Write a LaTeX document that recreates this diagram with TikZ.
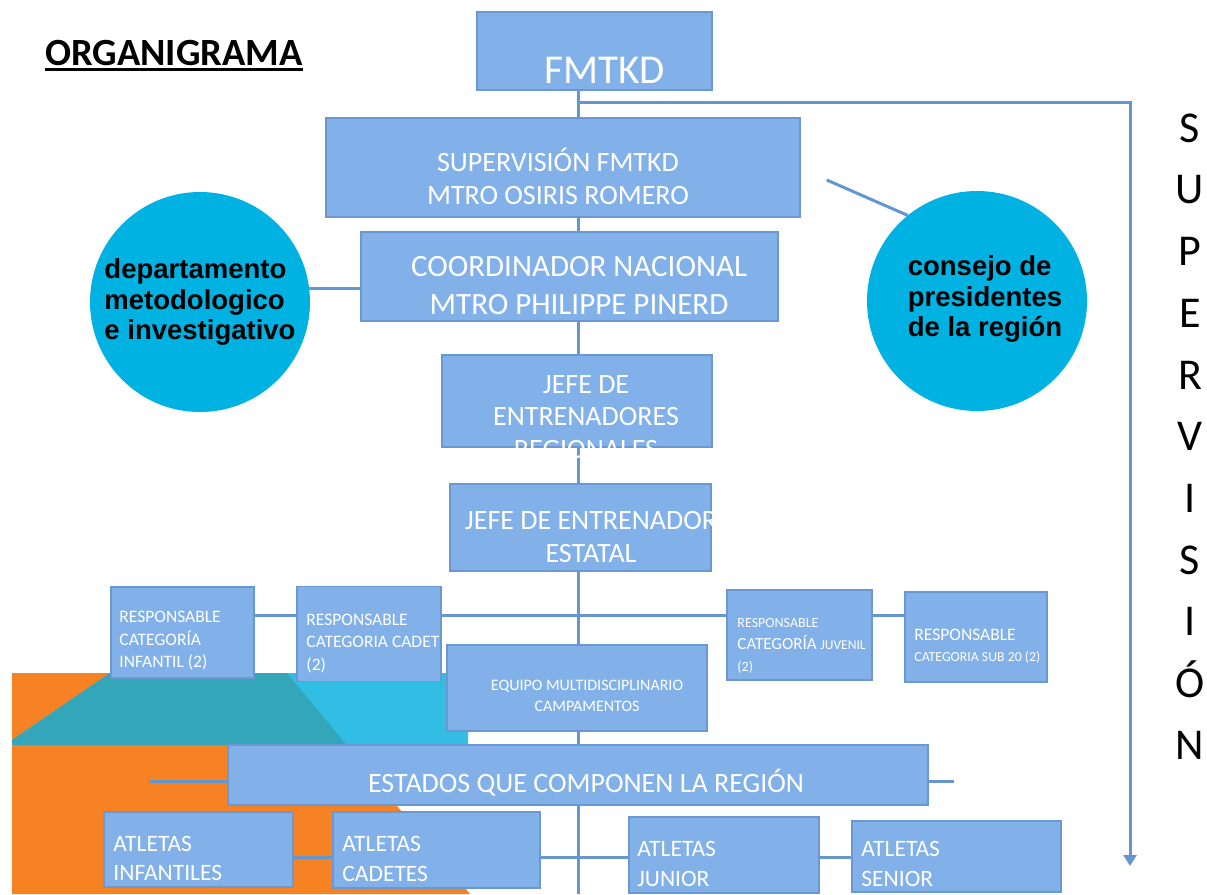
\documentclass[tikz,border=0pt]{standalone}
\usepackage{fontspec}
\setmainfont{Carlito}
\newfontfamily\helv{Liberation Sans}
\usetikzlibrary{arrows.meta,backgrounds}

\definecolor{boxfill}{RGB}{130,177,234}
\definecolor{boxline}{RGB}{108,152,210}
\definecolor{wireblue}{RGB}{102,150,208}
\definecolor{discblue}{RGB}{0,178,226}
\definecolor{orng}{RGB}{247,130,36}
\definecolor{skyb}{RGB}{50,190,228}
\definecolor{tealc}{RGB}{52,166,186}

\begin{document}
\begin{tikzpicture}[x=1pt,y=-1pt,>={Triangle[width=13pt,length=11pt]},
  box/.style={rectangle,draw=boxline,fill=boxfill,line width=1.5pt,inner sep=0pt},
  disc/.style={circle,fill=discblue,minimum size=220pt,inner sep=0pt,align=left,
    font=\helv\bfseries\fontsize{27.5}{30.5}\selectfont},
  wire/.style={draw=wireblue,line width=3pt},
  every label/.style={text=white,inner sep=0pt,align=center},
  lft/.style={anchor=west,align=left},
  bigtxt/.style={font=\fontsize{28}{33}\selectfont},
  smalltxt/.style={font=\fontsize{17.5}{22.5}\selectfont},
  atltxt/.style={font=\fontsize{23.5}{29.5}\selectfont}]
\useasboundingbox (0,0) rectangle (1207,894);
\coordinate (spine) at (578,894);
\coordinate (rowa) at (0,615);
\coordinate (rowb) at (0,857);
\coordinate (turn) at (1130,102);
\coordinate (tip) at (1130,866);

\node[inner sep=0pt,font=\bfseries\fontsize{38.5}{40}\selectfont] (title) at (174,53) {ORGANIGRAMA};
\draw[line width=2.5pt] ([yshift=-4pt]title.base west) -- ([yshift=-4pt]title.base east);

\node[box,minimum width=235pt,minimum height=78pt,
  label={[font=\fontsize{41}{48}\selectfont,xshift=10pt,yshift=-19pt]center:FMTKD}] (fmtkd) at (594.5,51) {};
\node[box,minimum width=474pt,minimum height=99pt,
  label={[bigtxt,xshift=-5pt,yshift=-8.5pt]center:{SUPERVISIÓN FMTKD\\MTRO OSIRIS ROMERO}}] (sup) at (563,167.5) {};
\node[box,minimum width=417pt,minimum height=89pt,
  label={[font=\fontsize{31}{38}\selectfont,xshift=9.5pt,yshift=-9.5pt]center:{COORDINADOR NACIONAL\\MTRO PHILIPPE PINERD}}] (coord) at (569.5,276.5) {};
\node[box,minimum width=270pt,minimum height=92pt,
  label={[font=\fontsize{28}{32.5}\selectfont,xshift=9pt,yshift=-16pt]center:{JEFE DE\\ENTRENADORES\\REGIONALES}}] (regional) at (577,401) {};
\node[box,minimum width=261pt,minimum height=87pt,
  label={[bigtxt,xshift=10.5pt,yshift=-10pt]center:{JEFE DE ENTRENADOR\\ESTATAL}}] (estatal) at (580.5,527.5) {};

\node[disc] (dept) at (200,302) {departamento\\metodologico\\e investigativo};
\node[disc,label={[text=black,align=left,font=\helv\bfseries\fontsize{27.5}{30.5}\selectfont,xshift=8pt,yshift=2pt]center:{consejo de\\presidentes\\de la región}}] (council) at (977,301) {};

\node[box,minimum width=143pt,minimum height=91pt,
  label={[smalltxt,lft,xshift=9pt,yshift=-8.5pt]west:{RESPONSABLE\\CATEGORÍA\\INFANTIL (2)}}] (infantil) at (182.5,632.5) {};
\node[box,minimum width=144pt,minimum height=95pt,
  label={[smalltxt,lft,xshift=10pt,yshift=-9.5pt]west:{RESPONSABLE\\CATEGORIA CADET\\(2)}}] (cadet) at (369,634) {};
\node[box,minimum width=145pt,minimum height=90pt,
  label={[font=\fontsize{17}{22}\selectfont,lft,xshift=11pt,yshift=-10.5pt]west:{{\fontsize{14}{17}\selectfont RESPONSABLE}\\CATEGORÍA {\fontsize{13.5}{17}\selectfont JUVENIL}\\{\fontsize{14}{17}\selectfont (2)}}}] (juvenil) at (799.5,635) {};
\node[box,minimum width=142pt,minimum height=90pt,
  label={[font=\fontsize{17.5}{21}\selectfont,lft,xshift=10pt,yshift=-9.5pt]west:{RESPONSABLE\\{\fontsize{13.8}{17}\selectfont CATEGORIA SUB 20 (2)}}}] (sub) at (976,637) {};
\node[box,minimum width=260pt,minimum height=86pt,
  label={[font=\fontsize{16}{21}\selectfont,xshift=10pt,yshift=-7.5pt]center:{EQUIPO MULTIDISCIPLINARIO\\CAMPAMENTOS}}] (equipo) at (577,688) {};
\node[box,minimum width=700pt,minimum height=60pt,
  label={[bigtxt,xshift=8pt,yshift=-7.5pt]center:ESTADOS QUE COMPONEN LA REGIÓN}] (estados) at (578,775) {};

\node[box,minimum width=189pt,minimum height=75pt,
  label={[atltxt,lft,xshift=10pt,yshift=-9pt]west:{ATLETAS\\INFANTILES}}] (atlinf) at (198.5,849.5) {};
\node[box,minimum width=207pt,minimum height=76pt,
  label={[atltxt,lft,xshift=10pt,yshift=-9pt]west:{ATLETAS\\CADETES}}] (atlcad) at (436.5,850) {};
\node[box,minimum width=190pt,minimum height=76pt,
  label={[atltxt,lft,xshift=9pt,yshift=-9pt]west:{ATLETAS\\JUNIOR}}] (atljun) at (724,855) {};
\node[box,minimum width=209pt,minimum height=71pt,
  label={[atltxt,lft,xshift=10pt,yshift=-7.5pt]west:{ATLETAS\\SENIOR}}] (atlsen) at (956.5,856.5) {};

\node[align=center,font=\fontsize{44}{61.7}\selectfont] (vlabel) at (1190,436.5) {S\\U\\P\\E\\R\\V\\I\\S\\I\\Ó\\N};

\begin{scope}[on background layer]
\fill[orng] (12,673) -- (287,673) -- (470,894) -- (12,894) -- cycle;
\fill[skyb] (110,673) -- (468,673) -- (468,745) -- (12,745) -- (12,740) -- cycle;
\fill[tealc] (110,673) -- (287,673) -- (346.6,745) -- (12,745) -- (12,740) -- cycle;
\foreach \a/\b in {fmtkd/sup,sup/coord,coord/regional,regional/estatal,estatal/equipo,equipo/estados}
  \draw[wire] (\a.south -| spine) -- (\b.north -| spine);
\draw[wire] (estados.south -| spine) -- (spine);
\draw[wire] (infantil.east |- rowa) -- (cadet.west |- rowa);
\draw[wire] (cadet.east |- rowa) -- (juvenil.west |- rowa);
\draw[wire] (juvenil.east |- rowa) -- (sub.west |- rowa);
\draw[wire] (atlinf.east |- rowb) -- (atlcad.west |- rowb);
\draw[wire] (atlcad.east |- rowb) -- (atljun.west |- rowb);
\draw[wire] (atljun.east |- rowb) -- (atlsen.west |- rowb);
\draw[wire] ([yshift=-6pt]estados.west) -- ++(-78,0);
\draw[wire] ([yshift=-6pt]estados.east) -- ++(25,0);
\draw[wire] (dept.7) -- (dept.7 -| coord.west);
\draw[wire] (council.129) -- ([xshift=26pt,yshift=-12.5pt]sup.east);
\draw[wire,->] (spine |- turn) -- (turn) -- (tip);
\end{scope}
\end{tikzpicture}
\end{document}
